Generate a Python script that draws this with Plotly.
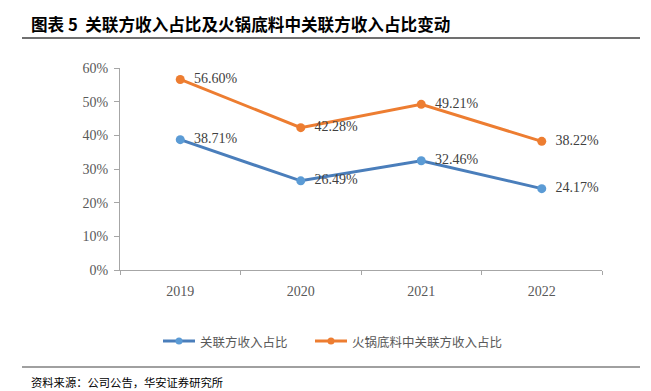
import plotly.graph_objects as go

years = ["2019", "2020", "2021", "2022"]
related_share = [38.71, 26.49, 32.46, 24.17]
hotpot_related_share = [56.60, 42.28, 49.21, 38.22]
series_names = ["关联方收入占比", "火锅底料中关联方收入占比"]
y_ticks = [0, 10, 20, 30, 40, 50, 60]

# page body has an 8px default margin; figure starts at (8, 8)
OFF = 8
W, H = 651 - OFF, 391 - OFF
# plot area in page pixels: x 120..602, y 68..270
PL, PR, PT, PB = 120, 602, 68, 270
L, R, T, B = PL - OFF, (W + OFF) - PR, PT - OFF, (H + OFF) - PB

colors = [("#4A7EBB", "#5B9BD5"), ("#ED7D31", "#ED7D31")]

fig = go.Figure()
for vals, name, (lc, mc) in zip([related_share, hotpot_related_share], series_names, colors):
    fig.add_trace(go.Scatter(
        x=years, y=vals, name=name, mode="lines+markers+text",
        line=dict(color=lc, width=3),
        marker=dict(color=mc, size=9),
        text=["  " + f"{v:.2f}%" for v in vals],
        textposition="middle right",
        textfont=dict(family="Liberation Serif", size=14, color="#404040"),
        cliponaxis=False, showlegend=False,
    ))

def px_x(p):
    return (p - PL) / (PR - PL)

def px_y(p):
    return (PB - p) / (PB - PT)

shapes = [
    dict(type="line", xref="paper", yref="paper", x0=px_x(22), x1=px_x(640),
         y0=px_y(38), y1=px_y(38), line=dict(color="#404040", width=1.5)),
    dict(type="line", xref="paper", yref="paper", x0=px_x(22), x1=px_x(640),
         y0=px_y(367), y1=px_y(367), line=dict(color="#808080", width=1.5)),
]
annotations = [
    dict(text="<b>图表 5  关联方收入占比及火锅底料中关联方收入占比变动</b>",
         xref="paper", yref="paper", x=px_x(29), y=px_y(24),
         xanchor="left", yanchor="middle", showarrow=False,
         font=dict(family="Noto Sans CJK SC", size=16.6, color="#000000")),
    dict(text="资料来源：公司公告，华安证券研究所",
         xref="paper", yref="paper", x=px_x(29), y=px_y(382),
         xanchor="left", yanchor="middle", showarrow=False,
         font=dict(family="Noto Sans CJK SC", size=11.3, color="#000000")),
]

# manual legend
leg_y = 341
for (lc, mc), name, x0 in zip(colors, series_names, [163, 315]):
    shapes.append(dict(type="line", xref="paper", yref="paper",
                       x0=px_x(x0), x1=px_x(x0 + 32), y0=px_y(leg_y), y1=px_y(leg_y),
                       line=dict(color=lc, width=3)))
    r = 3.5
    shapes.append(dict(type="circle", xref="paper", yref="paper",
                       x0=px_x(x0 + 16 - r), x1=px_x(x0 + 16 + r),
                       y0=px_y(leg_y + r), y1=px_y(leg_y - r),
                       fillcolor=mc, line=dict(color=mc, width=0)))
    annotations.append(dict(text=name, xref="paper", yref="paper",
                            x=px_x(x0 + 35), y=px_y(leg_y), xanchor="left", yanchor="middle",
                            showarrow=False,
                            font=dict(family="Noto Sans CJK SC", size=12.5, color="#595959")))

fig.update_layout(
    width=W, height=H,
    margin=dict(l=L, r=R, t=T, b=B, autoexpand=False),
    plot_bgcolor="white", paper_bgcolor="white",
    showlegend=False,
    xaxis=dict(type="category", range=[-0.5, 3.5], showline=True, linecolor="#A6A6A6", linewidth=1,
               ticks="outside", tickson="boundaries", ticklen=4, tickcolor="#A6A6A6",
               ticklabelstandoff=8,
               tickfont=dict(family="Liberation Serif", size=14, color="#595959"),
               showgrid=False, zeroline=False),
    yaxis=dict(range=[0, 60], tickvals=y_ticks, ticktext=[f"{v}%" for v in y_ticks],
               showline=True, linecolor="#A6A6A6", linewidth=1,
               ticks="outside", ticklen=5, tickcolor="#A6A6A6",
               ticklabelstandoff=3,
               tickfont=dict(family="Liberation Serif", size=14, color="#595959"),
               showgrid=False, zeroline=False),
    annotations=annotations,
    shapes=shapes,
)

fig.write_html("out.html")
